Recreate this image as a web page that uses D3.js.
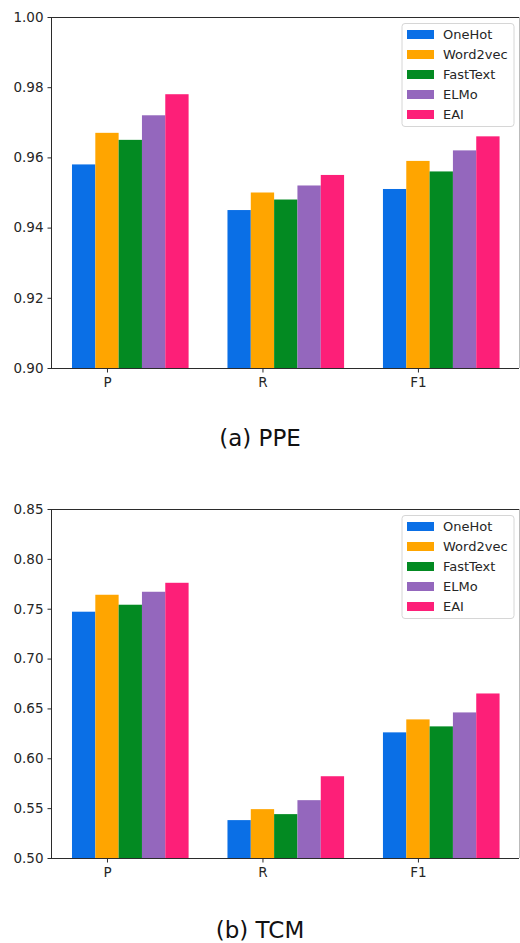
<!DOCTYPE html>
<html><head><meta charset="utf-8">
<script src="https://cdn.jsdelivr.net/npm/d3@7"></script>
<style>html,body{margin:0;padding:0;background:#fff;}svg{display:block;}</style>
</head><body>
<svg id="chart" width="520" height="943"></svg>
<script>
const categories = ["P", "R", "F1"];
const seriesNames = ["OneHot", "Word2vec", "FastText", "ELMo", "EAI"];
const seriesColors = ["#0a6fe6", "#ffa500", "#038a22", "#9467bd", "#fd1f78"];

const ppeOneHot   = [0.958, 0.945, 0.951];
const ppeWord2vec = [0.967, 0.950, 0.959];
const ppeFastText = [0.965, 0.948, 0.956];
const ppeELMo     = [0.972, 0.952, 0.962];
const ppeEAI      = [0.978, 0.955, 0.966];

const tcmOneHot   = [0.747, 0.538, 0.626];
const tcmWord2vec = [0.764, 0.549, 0.639];
const tcmFastText = [0.754, 0.544, 0.632];
const tcmELMo     = [0.767, 0.558, 0.646];
const tcmEAI      = [0.776, 0.582, 0.665];

const ppeTicks = [0.90, 0.92, 0.94, 0.96, 0.98, 1.00];
const tcmTicks = [0.50, 0.55, 0.60, 0.65, 0.70, 0.75, 0.80, 0.85];

const captions = ["(a) PPE", "(b) TCM"];

const svg = d3.select("#chart");
const barW = 0.15;
const x = d3.scaleLinear().domain([-0.36, 2.65]).range([51, 519]);

function panel(seriesVals, yDomain, ticks, top, bottom, fmt, caption, capY) {
  const g = svg.append("g");
  const y = d3.scaleLinear().domain(yDomain).range([bottom, top]);
  // bars
  seriesVals.forEach((vals, j) => {
    g.selectAll(null).data(vals).enter().append("rect")
      .attr("x", (d, i) => x(i + (j - 1) * barW - barW / 2))
      .attr("width", x(barW) - x(0))
      .attr("y", d => y(d))
      .attr("height", d => y(yDomain[0]) - y(d))
      .attr("fill", seriesColors[j]);
  });
  // spines
  const sp = g.append("g").attr("stroke", "#2b2b2b").attr("stroke-width", 1).attr("fill", "none");
  sp.append("line").attr("x1", x.range()[0]).attr("x2", x.range()[1]).attr("y1", top + 0.5).attr("y2", top + 0.5);
  sp.append("line").attr("x1", x.range()[0]).attr("x2", x.range()[1]).attr("y1", bottom + 0.5).attr("y2", bottom + 0.5);
  sp.append("line").attr("x1", x.range()[0] + 0.5).attr("x2", x.range()[0] + 0.5).attr("y1", top).attr("y2", bottom);
  sp.append("line").attr("x1", x.range()[1] + 0.5).attr("x2", x.range()[1] + 0.5).attr("y1", top).attr("y2", bottom).attr("stroke", "#bbb");
  // y axis
  const ya = g.append("g").attr("transform", `translate(${x.range()[0] + 0.5},0)`)
    .call(d3.axisLeft(y).tickValues(ticks).tickFormat(fmt).tickSize(4).tickPadding(4));
  ya.select(".domain").remove();
  ya.selectAll("line").attr("stroke", "#2b2b2b");
  ya.selectAll("text").attr("font-family", "DejaVu Sans").attr("font-size", 13.5).attr("fill", "#262626");
  // x axis
  const xa = g.append("g").attr("transform", `translate(0,${bottom + 0.5})`)
    .call(d3.axisBottom(x).tickValues([0, 1, 2]).tickFormat(i => categories[i]).tickSize(4).tickPadding(5));
  xa.select(".domain").remove();
  xa.selectAll("line").attr("stroke", "#2b2b2b");
  xa.selectAll("text").attr("font-family", "DejaVu Sans").attr("font-size", 13.5).attr("fill", "#262626");
  // legend
  const lx = 402, ly = top + 6.5;
  const lg = g.append("g").attr("transform", `translate(${lx},${ly})`);
  lg.append("rect").attr("x", 0).attr("y", 0).attr("width", 112).attr("height", 103).attr("rx", 3)
    .attr("fill", "#fff").attr("fill-opacity", 0.85).attr("stroke", "#d6d6d6");
  seriesNames.forEach((name, j) => {
    const cy = 11 + j * 20;
    lg.append("rect").attr("x", 5).attr("y", cy - 4.5).attr("width", 27).attr("height", 9).attr("fill", seriesColors[j]);
    lg.append("text").attr("x", 41).attr("y", cy).attr("dy", "0.35em")
      .attr("font-family", "DejaVu Sans").attr("font-size", 13).attr("fill", "#262626").text(name);
  });
  // caption
  svg.append("text").attr("x", 260).attr("y", capY).attr("text-anchor", "middle")
    .attr("font-family", "DejaVu Sans").attr("font-size", 23).attr("fill", "#111").text(caption);
}

panel([ppeOneHot, ppeWord2vec, ppeFastText, ppeELMo, ppeEAI], [0.90, 1.00], ppeTicks, 17, 368, d3.format(".2f"), captions[0], 446);
panel([tcmOneHot, tcmWord2vec, tcmFastText, tcmELMo, tcmEAI], [0.50, 0.85], tcmTicks, 509, 858, d3.format(".2f"), captions[1], 938);
</script>
</body></html>
